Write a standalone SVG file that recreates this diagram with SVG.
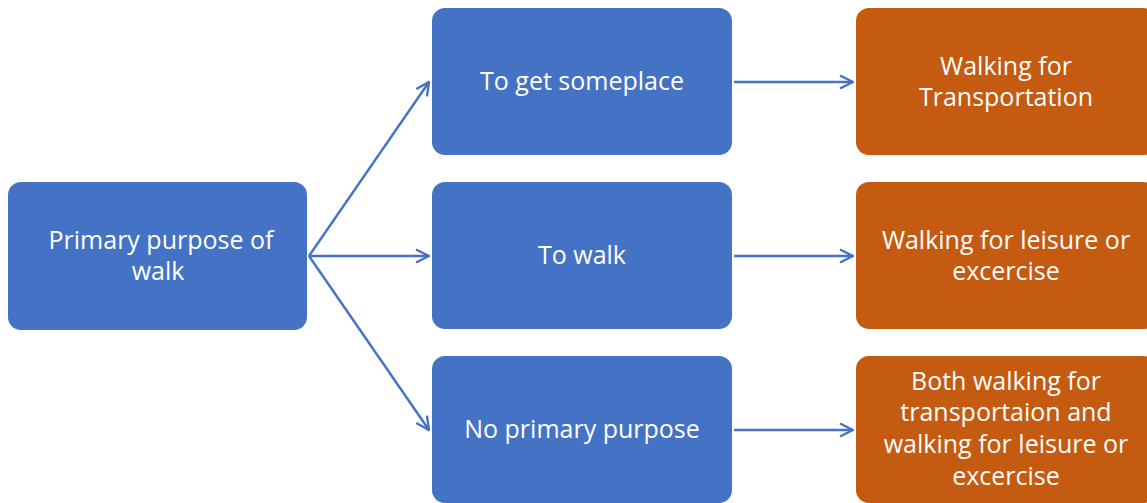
<svg xmlns="http://www.w3.org/2000/svg" width="1147" height="503" viewBox="0 0 1147 503">
<defs>
<style>
.b{fill:#4472C4}
.o{fill:#C55A11}
text{font-family:"Open Sans","Noto Sans","Liberation Sans",sans-serif;font-size:25px;fill:#fff;text-anchor:middle}
.c{stroke:#4472C4;stroke-width:2.4;fill:none}
</style>
<marker id="ah" viewBox="0 0 16 16" refX="15" refY="8" markerWidth="16" markerHeight="16" markerUnits="userSpaceOnUse" orient="auto">
<path d="M2,1.5 L15,8 L2,14.5" fill="none" stroke="#4472C4" stroke-width="2.4"/>
</marker>
</defs>
<g id="connectors">
<line class="c" x1="309" y1="256" x2="429" y2="82" marker-end="url(#ah)"/>
<line class="c" x1="309" y1="256" x2="429" y2="256" marker-end="url(#ah)"/>
<line class="c" x1="309" y1="256" x2="429" y2="430" marker-end="url(#ah)"/>
<line class="c" x1="734" y1="82" x2="853" y2="82" marker-end="url(#ah)"/>
<line class="c" x1="734" y1="256" x2="853" y2="256" marker-end="url(#ah)"/>
<line class="c" x1="734" y1="430" x2="853" y2="430" marker-end="url(#ah)"/>
</g>
<g id="n-primary"><rect class="b" x="8" y="182" width="299" height="148" rx="13"/><text x="161" y="249">Primary purpose of</text><text x="158" y="280">walk</text></g>
<g id="n-someplace"><rect class="b" x="432" y="8" width="300" height="147" rx="13"/><text x="582" y="90">To get someplace</text></g>
<g id="n-towalk"><rect class="b" x="432" y="182" width="300" height="147" rx="13"/><text x="582" y="264">To walk</text></g>
<g id="n-noprimary"><rect class="b" x="432" y="356" width="300" height="147" rx="13"/><text x="582" y="438">No primary purpose</text></g>
<g id="n-transport"><rect class="o" x="856" y="8" width="300" height="147" rx="13"/><text x="1006" y="75">Walking for</text><text x="1006" y="106">Transportation</text></g>
<g id="n-leisure"><rect class="o" x="856" y="182" width="300" height="147" rx="13"/><text x="1006" y="249">Walking for leisure or</text><text x="1006" y="280">excercise</text></g>
<g id="n-both"><rect class="o" x="856" y="356" width="300" height="147" rx="13"/><text x="1006" y="390">Both walking for</text><text x="1006" y="421">transportaion and</text><text x="1006" y="453">walking for leisure or</text><text x="1006" y="485">excercise</text></g>
</svg>
